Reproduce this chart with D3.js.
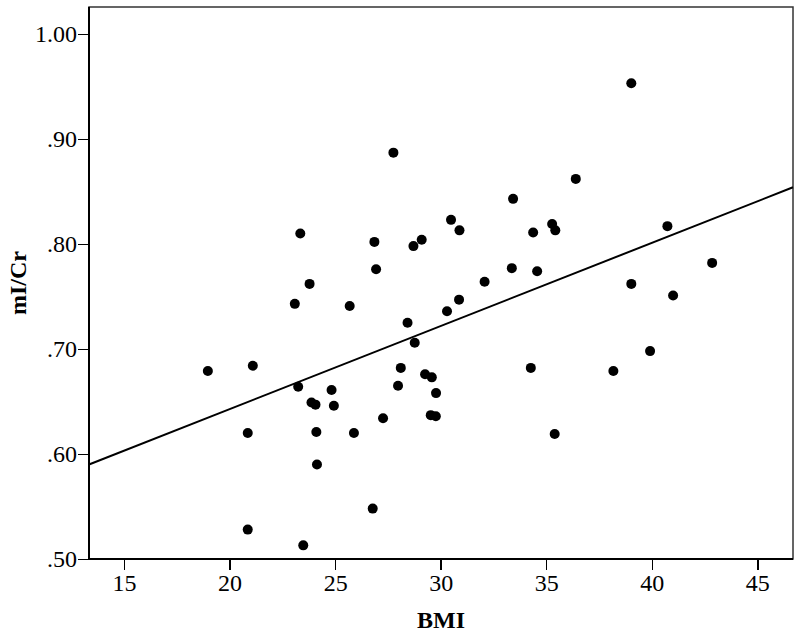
<!DOCTYPE html>
<head>
<meta charset="utf-8">
<script src="https://cdn.jsdelivr.net/npm/d3@7"></script>
<style>
body { margin: 0; background: #fff; }
.axis path, .axis line { stroke: #000; stroke-width: 1.5px; shape-rendering: crispEdges; }
.axis text { font-family: "Liberation Serif", Tinos, "Times New Roman", Times, "Nimbus Roman", FreeSerif, serif; font-size: 24px; fill: #000; }
.title { font-family: "Liberation Serif", Tinos, "Times New Roman", Times, "Nimbus Roman", FreeSerif, serif; font-size: 24px; font-weight: bold; }
</style>
<body>
<div id="chart"></div>
<script>
// BMI values
var bmi = [18.97, 21.10, 20.86, 20.86, 23.09, 23.79, 23.35, 23.25, 23.88, 24.07,
           24.11, 24.14, 23.49, 24.83, 24.94, 25.69, 25.89, 26.78, 26.86, 26.94,
           27.27, 27.76, 27.98, 28.11, 28.43, 28.71, 28.77, 29.10, 29.26, 29.58,
           29.53, 29.77, 29.78, 30.30, 30.49, 30.87, 30.89, 32.08, 33.37, 33.43,
           34.27, 34.38, 34.57, 35.28, 35.43, 35.40, 36.40, 38.18, 39.03, 39.03,
           39.92, 40.74, 41.01, 42.86];
// mI/Cr values
var micr = [0.679, 0.684, 0.620, 0.528, 0.743, 0.762, 0.810, 0.664, 0.649, 0.647,
            0.621, 0.590, 0.513, 0.661, 0.646, 0.741, 0.620, 0.548, 0.802, 0.776,
            0.634, 0.887, 0.665, 0.682, 0.725, 0.798, 0.706, 0.804, 0.676, 0.673,
            0.637, 0.636, 0.658, 0.736, 0.823, 0.747, 0.813, 0.764, 0.777, 0.843,
            0.682, 0.811, 0.774, 0.819, 0.813, 0.619, 0.862, 0.679, 0.953, 0.762,
            0.698, 0.817, 0.751, 0.782];
// fit line ends
var fitX = [13.34, 46.69];
var fitY = [0.590, 0.854];

var xTicks = [15, 20, 25, 30, 35, 40, 45];
var yTicks = [0.5, 0.6, 0.7, 0.8, 0.9, 1.0];

var margin = {top: 7, right: 7, bottom: 78, left: 89},
    width = 800 - margin.left - margin.right,
    height = 637 - margin.top - margin.bottom;

var svg = d3.select("#chart").append("svg")
    .attr("width", 800)
    .attr("height", 637)
  .append("g")
    .attr("transform", "translate(" + margin.left + "," + margin.top + ")");

var x = d3.scaleLinear().domain([13.34, 46.69]).range([0, width]);
var y = d3.scaleLinear().domain([0.5, 1.0257]).range([height, 0]);

// frame
svg.append("rect")
    .attr("width", width)
    .attr("height", height)
    .attr("fill", "none")
    .attr("stroke", "#333")
    .attr("stroke-width", 1.5);

// x axis
var xAxis = svg.append("g")
    .attr("class", "axis")
    .attr("transform", "translate(0," + height + ")")
    .call(d3.axisBottom(x).tickValues(xTicks).tickSize(11).tickPadding(4).tickSizeOuter(0));
xAxis.select(".domain").remove();
xAxis.append("line").attr("x1", 0).attr("x2", width).attr("stroke", "#000").attr("stroke-width", 1.5);

// y axis
var fmt = function(d) { return d3.format(".2f")(d).replace(/^0/, ""); };
var yAxis = svg.append("g")
    .attr("class", "axis")
    .call(d3.axisLeft(y).tickValues(yTicks).tickFormat(fmt).tickSize(11).tickPadding(1).tickSizeOuter(0));
yAxis.select(".domain").remove();
yAxis.append("line").attr("y1", 0).attr("y2", height).attr("stroke", "#000").attr("stroke-width", 1.5);

// fit line
svg.append("line")
    .attr("x1", x(fitX[0])).attr("y1", y(fitY[0]))
    .attr("x2", x(fitX[1])).attr("y2", y(fitY[1]))
    .attr("stroke", "#000")
    .attr("stroke-width", 2);

// points
svg.selectAll(".dot")
    .data(bmi.map(function(d, i) { return [d, micr[i]]; }))
  .enter().append("circle")
    .attr("class", "dot")
    .attr("cx", function(d) { return x(d[0]); })
    .attr("cy", function(d) { return y(d[1]); })
    .attr("r", 5)
    .attr("fill", "#000");

// axis titles
svg.append("text")
    .attr("class", "title")
    .attr("x", width / 2)
    .attr("y", height + 69)
    .attr("text-anchor", "middle")
    .text("BMI");

svg.append("text")
    .attr("class", "title")
    .attr("transform", "rotate(-90)")
    .attr("x", -height / 2)
    .attr("y", -63)
    .attr("text-anchor", "middle")
    .text("mI/Cr");
</script>
</body>
